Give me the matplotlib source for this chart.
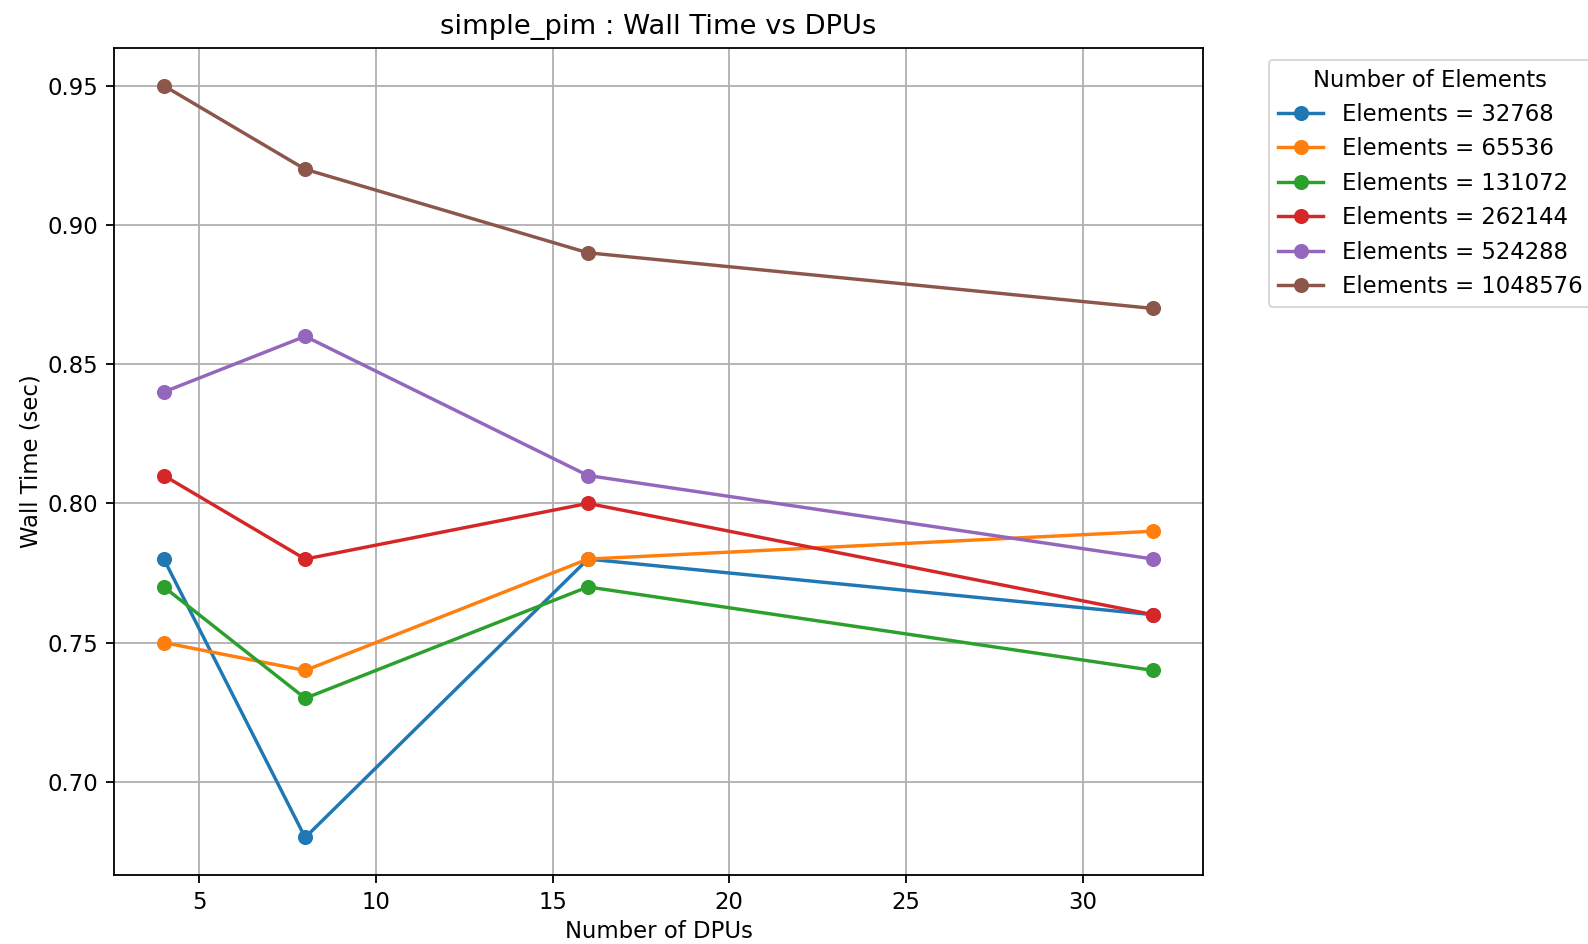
import matplotlib
matplotlib.use("Agg")
import matplotlib.pyplot as plt

dpus = [4, 8, 16, 32]
elements = [32768, 65536, 131072, 262144, 524288, 1048576]
t_32768 = [0.78, 0.68, 0.78, 0.76]
t_65536 = [0.75, 0.74, 0.78, 0.79]
t_131072 = [0.77, 0.73, 0.77, 0.74]
t_262144 = [0.81, 0.78, 0.80, 0.76]
t_524288 = [0.84, 0.86, 0.81, 0.78]
t_1048576 = [0.95, 0.92, 0.89, 0.87]
series = [t_32768, t_65536, t_131072, t_262144, t_524288, t_1048576]

s = 1.64
fig = plt.figure(figsize=(15.88, 9.44), dpi=100)
ax = fig.add_axes([0.072, 0.073, 0.6855, 0.876])
for n, vals in zip(elements, series):
    ax.plot(dpus, vals, marker='o', markersize=6 * s, linewidth=1.5 * s, label=f"Elements = {n}")
ax.grid(True, linewidth=0.8 * s)
for sp in ax.spines.values():
    sp.set_linewidth(0.8 * s)
ax.set_yticks([0.70, 0.75, 0.80, 0.85, 0.90, 0.95])
ax.set_xlabel("Number of DPUs", fontsize=10 * s)
ax.set_ylabel("Wall Time (sec)", fontsize=10 * s)
ax.set_title("simple_pim : Wall Time vs DPUs", fontsize=12 * s, pad=6 * s)
ax.tick_params(labelsize=10 * s, length=3.5 * s, width=0.8 * s, pad=3.5 * s)
leg = ax.legend(title="Number of Elements", bbox_to_anchor=(1.05, 1), loc='upper left',
                fontsize=10 * s, title_fontsize=10 * s)
leg.get_frame().set_linewidth(0.8 * s)
fig.savefig("out.png", dpi=100)
